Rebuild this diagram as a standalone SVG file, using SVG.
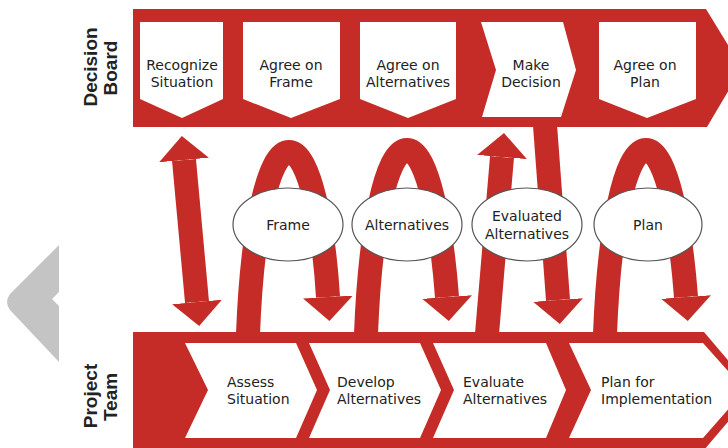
<svg xmlns="http://www.w3.org/2000/svg" width="728" height="448" viewBox="0 0 728 448">
<defs>
<style>
.band{fill:#c62c27}
.box{fill:#ffffff}
.lbl{font-family:"DejaVu Sans","Liberation Sans",sans-serif;font-size:14px;fill:#222}
.lane{font-family:"Liberation Sans",Arial,sans-serif;font-size:19px;font-weight:bold;fill:#222}
.conn{fill:none;stroke:#c62c27;stroke-width:24;stroke-linecap:butt}
.oval{fill:#ffffff;stroke:#555;stroke-width:1.2}
</style>
<marker id="head" markerUnits="userSpaceOnUse" viewBox="0 -25 24 50" refX="0" refY="0" markerWidth="24" markerHeight="50" orient="auto-start-reverse">
<path d="M0,-25 L24,0 L0,25 Z" fill="#c62c27"/>
</marker>
</defs>
<rect width="728" height="448" fill="#ffffff"/>
<path d="M59 245 L10 294 Q4 302 10 310 L59 362 L59 306 L52 299 L59 292 Z" fill="#c4c4c4"/>

<g id="lane-decision-board">
<path class="band" d="M133 9 L706 9 L742 68 L707 127 L133 127 Z"/>
<text class="lane" transform="translate(97,67) rotate(-90)" text-anchor="middle">Decision</text>
<text class="lane" transform="translate(117,68) rotate(-90)" text-anchor="middle">Board</text>
</g>
<g id="lane-project-team">
<path class="band" d="M133 332 L704 332 L754 391 L704 450 L133 450 Z"/>
<text class="lane" transform="translate(97,396) rotate(-90)" text-anchor="middle">Project</text>
<text class="lane" transform="translate(117,397) rotate(-90)" text-anchor="middle">Team</text>
</g>

<g id="recognize-situation">
<path class="box" d="M140 22 L223 22 L223 99 L182 118 L140 99 Z"/>
<text class="lbl" x="182" y="70" text-anchor="middle">Recognize</text>
<text class="lbl" x="182" y="87" text-anchor="middle">Situation</text>
</g>
<g id="agree-on-frame">
<path class="box" d="M243 22 L340 22 L340 99 L291 118 L243 99 Z"/>
<text class="lbl" x="291" y="70" text-anchor="middle">Agree on</text>
<text class="lbl" x="291" y="87" text-anchor="middle">Frame</text>
</g>
<g id="agree-on-alternatives">
<path class="box" d="M360 22 L456 22 L456 99 L408 118 L360 99 Z"/>
<text class="lbl" x="408" y="70" text-anchor="middle">Agree on</text>
<text class="lbl" x="408" y="87" text-anchor="middle">Alternatives</text>
</g>
<g id="make-decision">
<path class="box" d="M481 22 L563 22 L576 70 L561 117 L482 117 L496 70 Z"/>
<text class="lbl" x="531" y="70" text-anchor="middle">Make</text>
<text class="lbl" x="531" y="87" text-anchor="middle">Decision</text>
</g>
<g id="agree-on-plan">
<path class="box" d="M599 22 L696 22 L696 99 L647 118 L599 99 Z"/>
<text class="lbl" x="645" y="70" text-anchor="middle">Agree on</text>
<text class="lbl" x="645" y="87" text-anchor="middle">Plan</text>
</g>

<g id="assess-situation">
<path class="box" d="M185 343 L296 343 L317 390 L296 438 L185 438 L208 390 Z"/>
<text class="lbl" x="227" y="387">Assess</text>
<text class="lbl" x="227" y="404">Situation</text>
</g>
<g id="develop-alternatives">
<path class="box" d="M309 343 L420 343 L441 390 L420 438 L309 438 L330 390 Z"/>
<text class="lbl" x="337" y="387">Develop</text>
<text class="lbl" x="337" y="404">Alternatives</text>
</g>
<g id="evaluate-alternatives">
<path class="box" d="M433 343 L546 343 L566 390 L546 438 L433 438 L454 390 Z"/>
<text class="lbl" x="463" y="387">Evaluate</text>
<text class="lbl" x="463" y="404">Alternatives</text>
</g>
<g id="plan-for-implementation">
<path class="box" d="M569 343 L703 343 L745 390 L703 438 L569 438 L591 390 Z"/>
<text class="lbl" x="601" y="387">Plan for</text>
<text class="lbl" x="601" y="404">Implementation</text>
</g>

<g id="connectors">
<path class="conn" stroke-width="23" d="M184 160 L197 302" marker-start="url(#head)" marker-end="url(#head)"/>
<path class="conn" d="M248 334 C252 230 268 152 289 152 C310 152 324 230 328 297" marker-end="url(#head)"/>
<path class="conn" d="M366 334 C370 230 386 150 407 150 C428 150 442 230 447 297" marker-end="url(#head)"/>
<path class="conn" d="M487 334 L502 157" marker-end="url(#head)"/>
<path class="conn" d="M545 125 L558 300" marker-end="url(#head)"/>
<path class="conn" d="M605 334 C609 230 625 150 646 150 C667 150 681 230 686 297" marker-end="url(#head)"/>
</g>

<g id="frame">
<ellipse class="oval" cx="288" cy="224.5" rx="55" ry="36.5"/>
<text class="lbl" x="288" y="229.5" text-anchor="middle">Frame</text>
</g>
<g id="alternatives">
<ellipse class="oval" cx="407" cy="224.5" rx="55" ry="36.5"/>
<text class="lbl" x="407" y="229.5" text-anchor="middle">Alternatives</text>
</g>
<g id="evaluated-alternatives">
<ellipse class="oval" cx="527" cy="224.5" rx="55" ry="36.5"/>
<text class="lbl" x="527" y="221" text-anchor="middle">Evaluated</text>
<text class="lbl" x="527" y="239" text-anchor="middle">Alternatives</text>
</g>
<g id="plan">
<ellipse class="oval" cx="648" cy="224.5" rx="54" ry="36.5"/>
<text class="lbl" x="648" y="229.5" text-anchor="middle">Plan</text>
</g>
</svg>
